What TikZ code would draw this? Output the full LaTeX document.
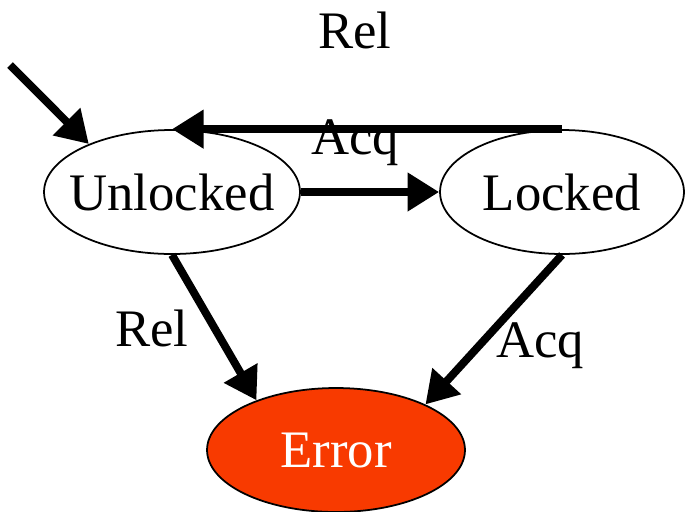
\documentclass[tikz,border=0pt]{standalone}
\usepackage{fontspec}
\setmainfont{Liberation Serif}
\usetikzlibrary{shapes.geometric,arrows.meta,positioning}

\begin{document}
\begin{tikzpicture}[
    x=0.02cm, y=-0.02cm,
    state/.style={ellipse, draw, line width=1pt, fill=white, minimum height=2.48cm, inner ysep=0pt, inner xsep=-0.25cm, font=\fontsize{30}{36}\selectfont},
    errstate/.style={state, fill=errred, text=white},
    arrow/.style={-{Triangle[length=18pt, width=21pt]}, line width=4.5pt},
    lbl/.style={font=\fontsize{30}{36}\selectfont}
]
    \definecolor{errred}{HTML}{F83A00}
    \useasboundingbox (0,0) rectangle (685,511);

    % States
    \node[state, minimum width=5.12cm] (unlocked) at (172,192) {Unlocked};
    \node[state, minimum width=4.88cm] (locked) at (562,192) {Locked};
    \node[errstate, minimum width=5.16cm] (error) at (336,450) {Error};

    % Initial arrow
    \coordinate (init) at (10,65);
    \draw[arrow] (init) -- (unlocked.150);

    % Transitions
    \draw[arrow] (locked.north) -- (unlocked.north);
    \draw[arrow] (unlocked.east) -- (locked.west);
    \draw[arrow] (unlocked.south) -- (error.148);
    \draw[arrow] (locked.south) -- (error.27);

    % Labels
    \node[lbl] (relTop) at (355,30) {Rel};
    \node[lbl] (acqTop) at (355,143) {Acq};
    \node[lbl] (relLeft) at (152,328) {Rel};
    \node[lbl] (acqRight) at (540,346) {Acq};
\end{tikzpicture}
\end{document}
